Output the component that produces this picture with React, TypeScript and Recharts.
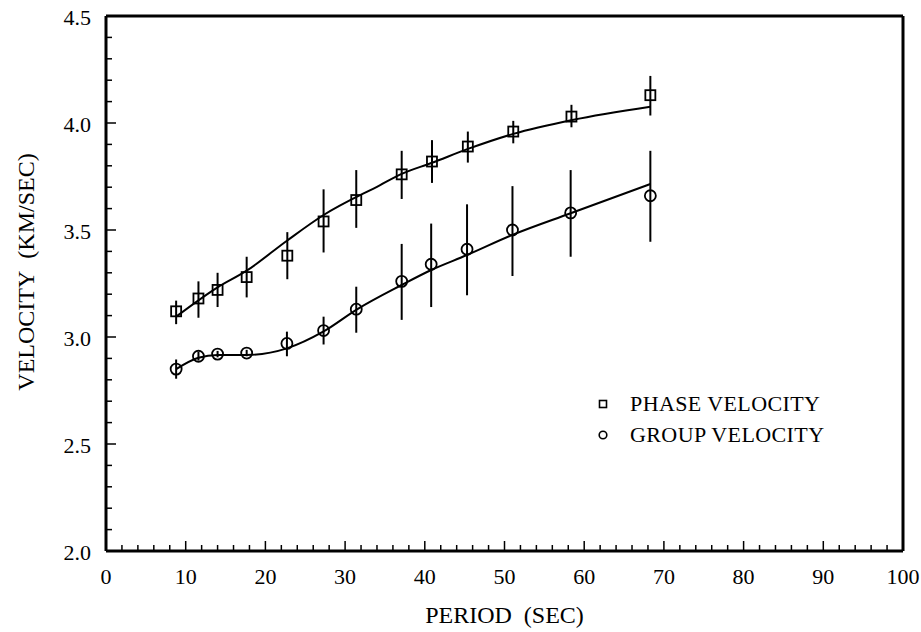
import {
  ComposedChart,
  Line,
  Scatter,
  ErrorBar,
  XAxis,
  YAxis,
} from "recharts";

// measured points: period (s), velocity (km/s), error [below, above]
const phasePeriod = [8.8, 11.6, 14.0, 17.65, 22.75, 27.3, 31.4, 37.1, 40.9, 45.4, 51.1, 58.4, 68.3];
const phaseVel = [3.12, 3.18, 3.22, 3.28, 3.38, 3.54, 3.64, 3.76, 3.82, 3.89, 3.96, 4.03, 4.13];
const phaseErr = [
  [0.06, 0.05], [0.09, 0.08], [0.08, 0.08], [0.095, 0.095], [0.11, 0.11], [0.145, 0.15], [0.13, 0.14],
  [0.115, 0.11], [0.1, 0.1], [0.075, 0.07], [0.055, 0.05], [0.05, 0.055], [0.095, 0.09],
];

const groupPeriod = [8.8, 11.6, 14.0, 17.65, 22.7, 27.3, 31.4, 37.1, 40.8, 45.3, 51.0, 58.3, 68.3];
const groupVel = [2.85, 2.91, 2.92, 2.925, 2.97, 3.03, 3.13, 3.26, 3.34, 3.41, 3.5, 3.58, 3.66];
const groupErr = [
  [0.045, 0.045], [0.02, 0.02], [0.015, 0.015], [0.015, 0.015], [0.06, 0.055], [0.065, 0.065], [0.11, 0.105],
  [0.18, 0.175], [0.2, 0.19], [0.215, 0.21], [0.215, 0.205], [0.205, 0.2], [0.215, 0.21],
];

// fitted curves
const phaseFitX = [8.8, 14.0, 17.65, 22.7, 27.3, 34.4, 37.1, 40.9, 45.5, 51.1, 58.5, 68.3];
const phaseFitY = [3.095, 3.232, 3.31, 3.45, 3.57, 3.71, 3.762, 3.814, 3.88, 3.949, 4.014, 4.076];
const groupFitX = [8.8, 11.6, 14.0, 17.65, 22.7, 27.3, 31.4, 37.1, 40.8, 45.3, 51.0, 58.3, 68.3];
const groupFitY = [2.85, 2.903, 2.916, 2.916, 2.947, 3.026, 3.127, 3.243, 3.313, 3.383, 3.477, 3.578, 3.715];

const xTicks = [
  0, 2, 4, 6, 8, 10, 12, 14, 16, 18, 20, 22, 24, 26, 28, 30, 32, 34, 36, 38, 40, 42, 44, 46, 48, 50,
  52, 54, 56, 58, 60, 62, 64, 66, 68, 70, 72, 74, 76, 78, 80, 82, 84, 86, 88, 90, 92, 94, 96, 98, 100,
];
const yTicks = [
  2.0, 2.1, 2.2, 2.3, 2.4, 2.5, 2.6, 2.7, 2.8, 2.9, 3.0, 3.1, 3.2, 3.3, 3.4, 3.5, 3.6, 3.7, 3.8, 3.9,
  4.0, 4.1, 4.2, 4.3, 4.4, 4.5,
];

const phasePoints = phasePeriod.map((p, i) => ({ x: p, y: phaseVel[i], err: phaseErr[i] }));
const groupPoints = groupPeriod.map((p, i) => ({ x: p, y: groupVel[i], err: groupErr[i] }));
const phaseFit = phaseFitX.map((p, i) => ({ x: p, y: phaseFitY[i] }));
const groupFit = groupFitX.map((p, i) => ({ x: p, y: groupFitY[i] }));

const FONT = "'Liberation Serif', 'Times New Roman', serif";
const isMajorX = (v: number) => v % 10 === 0;
const isMajorY = (v: number) => Math.abs(v * 2 - Math.round(v * 2)) < 1e-6;

const BottomTick = ({ x, y, payload }: any) => {
  const major = isMajorX(payload.value);
  return (
    <g>
      <line x1={x} x2={x} y1={y} y2={y - (major ? 10 : 6)} stroke="#000" strokeWidth={1.5} />
      {major && (
        <text x={x} y={y + 25} textAnchor="middle" dominantBaseline="central" fontFamily={FONT} fontSize={22} fill="#000">
          {payload.value}
        </text>
      )}
    </g>
  );
};

const TopTick = ({ x, y, payload }: any) => {
  const major = isMajorX(payload.value);
  return <line x1={x} x2={x} y1={y} y2={y + (major ? 10 : 6)} stroke="#000" strokeWidth={1.5} />;
};

const LeftTick = ({ x, y, payload }: any) => {
  const major = isMajorY(payload.value);
  return (
    <g>
      <line x1={x} x2={x + (major ? 10 : 6)} y1={y} y2={y} stroke="#000" strokeWidth={1.5} />
      {major && (
        <text x={x - 15} y={y + 1} textAnchor="end" dominantBaseline="central" fontFamily={FONT} fontSize={22} fill="#000">
          {payload.value.toFixed(1)}
        </text>
      )}
    </g>
  );
};

const RightTick = ({ x, y, payload }: any) => {
  const major = isMajorY(payload.value);
  return <line x1={x} x2={x - (major ? 10 : 6)} y1={y} y2={y} stroke="#000" strokeWidth={1.5} />;
};

const SquareMark = ({ cx, cy }: any) => (
  <rect x={cx - 5} y={cy - 5} width={10} height={10} fill="none" stroke="#000" strokeWidth={1.8} />
);
const CircleMark = ({ cx, cy }: any) => (
  <circle cx={cx} cy={cy} r={5.5} fill="none" stroke="#000" strokeWidth={1.8} />
);

const legendRows = [
  { name: "PHASE VELOCITY", mark: <rect x={3.5} y={3.5} width={7} height={7} fill="none" stroke="#000" strokeWidth={1.6} /> },
  { name: "GROUP VELOCITY", mark: <circle cx={7} cy={7} r={3.8} fill="none" stroke="#000" strokeWidth={1.6} /> },
];

const XTitle = ({ viewBox }: any) => (
  <text x={viewBox.x + viewBox.width / 2} y={viewBox.y + 64} textAnchor="middle" dominantBaseline="central" fontFamily={FONT} fontSize={24} fill="#000">
    {"PERIOD\u00a0\u00a0(SEC)"}
  </text>
);

const YTitle = () => {
  const cx = 26;
  const cy = 272;
  return (
    <text x={cx} y={cy} transform={`rotate(-90 ${cx} ${cy})`} textAnchor="middle" dominantBaseline="central" fontFamily={FONT} fontSize={24} fill="#000">
      {"VELOCITY\u00a0\u00a0(KM/SEC)"}
    </text>
  );
};

const axisStroke = { stroke: "#000", strokeWidth: 3 };

export default function App() {
  return (
    <div style={{ position: "absolute", left: 0, top: 0, width: 921, height: 632 }}>
      <ComposedChart width={921} height={632} margin={{ top: 15, right: 17, bottom: 0, left: 0 }}>
        <XAxis
          xAxisId="b"
          dataKey="x"
          type="number"
          domain={[0, 100]}
          ticks={xTicks}
          interval={0}
          height={81}
          tickSize={0}
          tickMargin={0}
          tick={<BottomTick />}
          axisLine={axisStroke}
          label={<XTitle />}
        />
        <XAxis
          xAxisId="t"
          orientation="top"
          dataKey="x"
          type="number"
          domain={[0, 100]}
          ticks={xTicks}
          interval={0}
          height={1}
          tickSize={0}
          tickMargin={0}
          tick={<TopTick />}
          axisLine={axisStroke}
        />
        <YAxis
          yAxisId="l"
          type="number"
          domain={[2, 4.5]}
          ticks={yTicks}
          interval={0}
          width={106}
          tickSize={0}
          tickMargin={0}
          tick={<LeftTick />}
          axisLine={axisStroke}
          label={<YTitle />}
        />
        <YAxis
          yAxisId="r"
          orientation="right"
          type="number"
          domain={[2, 4.5]}
          ticks={yTicks}
          interval={0}
          width={1}
          tickSize={0}
          tickMargin={0}
          tick={<RightTick />}
          axisLine={axisStroke}
        />
        <Line xAxisId="b" yAxisId="l" data={phaseFit} dataKey="y" type="monotone" stroke="#000" strokeWidth={2} dot={false} isAnimationActive={false} />
        <Line xAxisId="b" yAxisId="l" data={groupFit} dataKey="y" type="monotone" stroke="#000" strokeWidth={2} dot={false} isAnimationActive={false} />
        <Scatter xAxisId="b" yAxisId="l" data={phasePoints} dataKey="y" shape={<SquareMark />} isAnimationActive={false}>
          <ErrorBar dataKey="err" direction="y" width={0} stroke="#000" strokeWidth={2} />
        </Scatter>
        <Scatter xAxisId="b" yAxisId="l" data={groupPoints} dataKey="y" shape={<CircleMark />} isAnimationActive={false}>
          <ErrorBar dataKey="err" direction="y" width={0} stroke="#000" strokeWidth={2} />
        </Scatter>
      </ComposedChart>
      <div style={{ position: "absolute", left: 596, top: 388, fontFamily: FONT, fontSize: 22, color: "#000" }}>
        {legendRows.map((r) => (
          <div key={r.name} style={{ display: "flex", alignItems: "center", height: 31 }}>
            <svg width={14} height={14}>{r.mark}</svg>
            <span style={{ marginLeft: 20, letterSpacing: 0.4, whiteSpace: "nowrap" }}>{r.name}</span>
          </div>
        ))}
      </div>
    </div>
  );
}
